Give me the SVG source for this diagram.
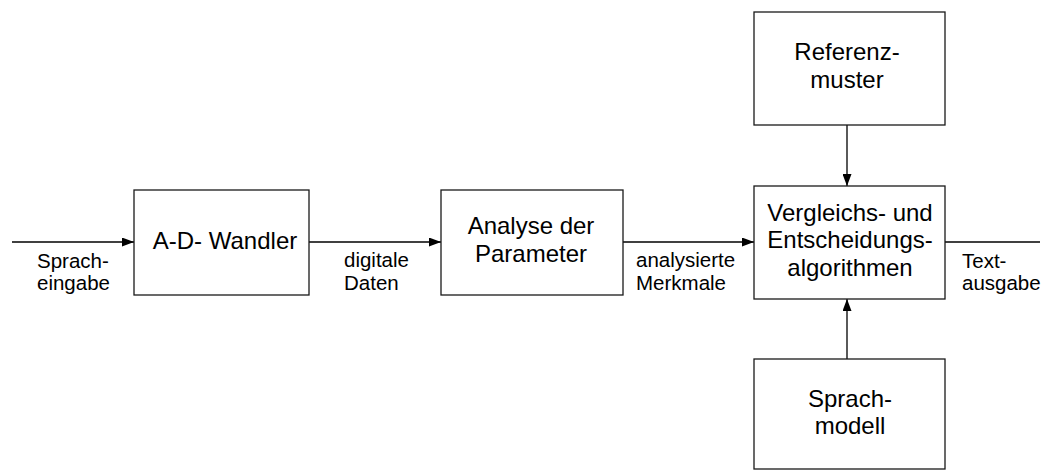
<svg xmlns="http://www.w3.org/2000/svg" width="1043" height="471" viewBox="0 0 1043 471">
<style>
.box{fill:#fff;stroke:#1a1a1a;stroke-width:1.3}
.bt{font-family:"Liberation Sans",Arial,sans-serif;font-size:24px;fill:#000;text-anchor:middle}
.lb{font-family:"Liberation Sans",Arial,sans-serif;font-size:20.5px;fill:#000}
.ln{stroke:#000;stroke-width:1.3;fill:none}
</style>
<defs>
<marker id="ah" viewBox="0 0 12 9" refX="12" refY="4.5" markerWidth="12" markerHeight="9" markerUnits="userSpaceOnUse" orient="auto">
<path d="M0,0 L12,4.5 L0,9 Z" fill="#000"/>
</marker>
</defs>
<g id="connectors">
<line class="ln" x1="12" y1="242" x2="134" y2="242" marker-end="url(#ah)"/>
<line class="ln" x1="309" y1="242" x2="441" y2="242" marker-end="url(#ah)"/>
<line class="ln" x1="623" y1="242" x2="754" y2="242" marker-end="url(#ah)"/>
<line class="ln" x1="945" y1="242" x2="1040" y2="242"/>
<line class="ln" x1="847" y1="125" x2="847" y2="186" marker-end="url(#ah)"/>
<line class="ln" x1="847" y1="359" x2="847" y2="299" marker-end="url(#ah)"/>
<text class="lb" x="37"><tspan x="37" y="267.5">Sprach-</tspan><tspan x="37" y="290">eingabe</tspan></text>
<text class="lb"><tspan x="344" y="267">digitale</tspan><tspan x="344" y="289.5">Daten</tspan></text>
<text class="lb"><tspan x="636" y="267">analysierte</tspan><tspan x="636" y="289.5">Merkmale</tspan></text>
<text class="lb"><tspan x="962" y="267.5">Text-</tspan><tspan x="962" y="290">ausgabe</tspan></text>
</g>
<g id="ad">
<rect class="box" x="134" y="190" width="175" height="105"/>
<text class="bt" x="225" y="248.5">A-D- Wandler</text>
</g>
<g id="analyse">
<rect class="box" x="441" y="190" width="182" height="105"/>
<text class="bt"><tspan x="531" y="234">Analyse der</tspan><tspan x="531" y="261.5">Parameter</tspan></text>
</g>
<g id="vergleich">
<rect class="box" x="754" y="186" width="191" height="113"/>
<text class="bt"><tspan x="850" y="220.5">Vergleichs- und</tspan><tspan x="850" y="248">Entscheidungs-</tspan><tspan x="850" y="275.5">algorithmen</tspan></text>
</g>
<g id="referenz">
<rect class="box" x="754" y="12" width="191" height="113"/>
<text class="bt"><tspan x="847" y="60">Referenz-</tspan><tspan x="847" y="87.5">muster</tspan></text>
</g>
<g id="sprachmodell">
<rect class="box" x="754" y="359" width="191" height="110"/>
<text class="bt"><tspan x="850" y="406.5">Sprach-</tspan><tspan x="850" y="434">modell</tspan></text>
</g>
</svg>
